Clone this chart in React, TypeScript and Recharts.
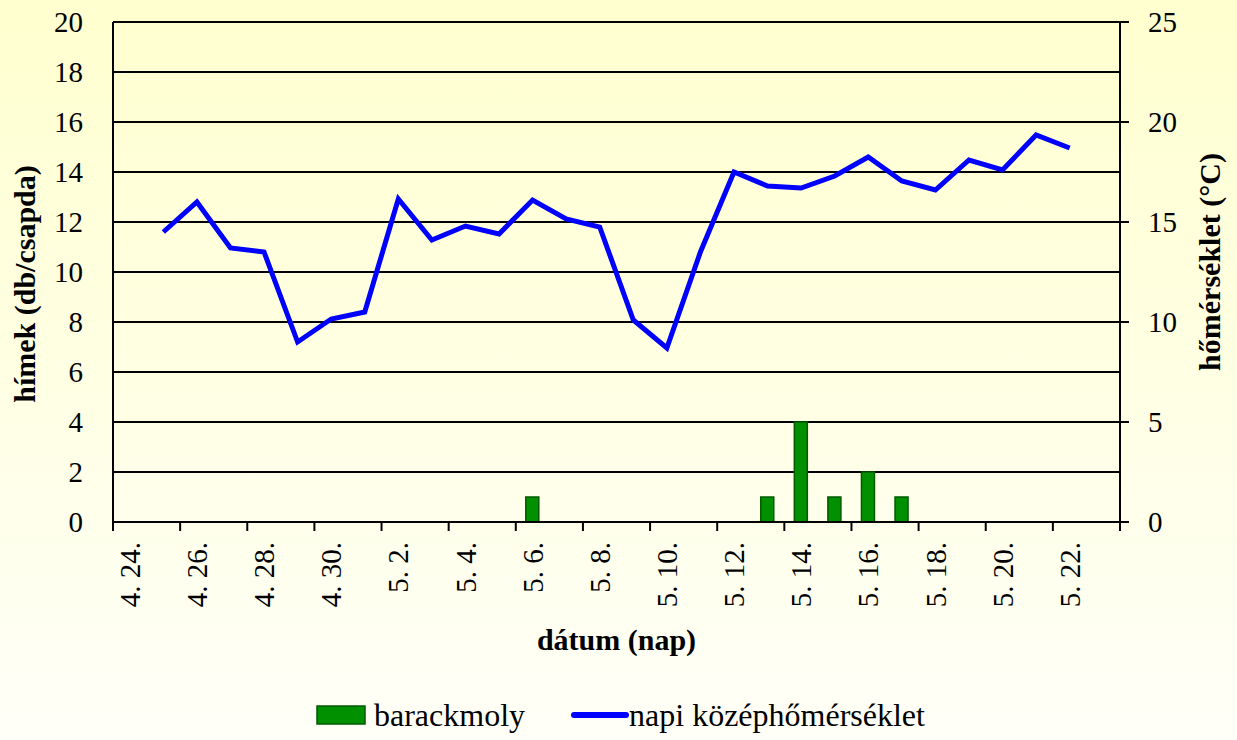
import React from "react";
import {
  Bar,
  CartesianGrid,
  ComposedChart,
  Legend,
  Line,
  XAxis,
  YAxis,
} from "recharts";

const dates = [
  "4. 24.", "4. 25.", "4. 26.", "4. 27.", "4. 28.", "4. 29.", "4. 30.",
  "5. 1.", "5. 2.", "5. 3.", "5. 4.", "5. 5.", "5. 6.", "5. 7.", "5. 8.",
  "5. 9.", "5. 10.", "5. 11.", "5. 12.", "5. 13.", "5. 14.", "5. 15.",
  "5. 16.", "5. 17.", "5. 18.", "5. 19.", "5. 20.", "5. 21.", "5. 22.",
  "5. 23.",
];

// barackmoly (hímek / csapda)
const moths = [
  0, 0, 0, 0, 0, 0, 0, 0, 0, 0, 0, 0, 1, 0, 0,
  0, 0, 0, 0, 1, 4, 1, 2, 1, 0, 0, 0, 0, 0, 0,
];

// napi középhőmérséklet (°C)
const temps: (number | null)[] = [
  null, 14.5, 16.0, 13.7, 13.5, 9.0, 10.15, 10.5, 16.15, 14.1, 14.8, 14.4,
  16.1, 15.15, 14.75, 10.1, 8.7, 13.5, 17.5, 16.8, 16.7, 17.3, 18.25, 17.05,
  16.6, 18.1, 17.6, 19.35, 18.7, null,
];

const leftTicks = [0, 2, 4, 6, 8, 10, 12, 14, 16, 18, 20];
const rightTicks = [0, 5, 10, 15, 20, 25];

const data = dates.map((d, i) => ({ date: d, moly: moths[i], temp: temps[i] }));

const W = 1237;
const H = 740;
const LEFT_W = 113;
const RIGHT_W = 117;
const FONT = "'Liberation Serif', 'Times New Roman', serif";

const XTick = (props: any) => {
  const { x, y, payload } = props;
  const band = (W - LEFT_W - RIGHT_W) / dates.length;
  const i = dates.indexOf(payload.value);
  const last = i + 2 >= dates.length;
  return (
    <g>
      <line x1={x - band / 2} y1={y} x2={x - band / 2} y2={y + 9} stroke="#000" strokeWidth={2} />
      {last && (
        <line x1={x + band * 1.5} y1={y} x2={x + band * 1.5} y2={y + 9} stroke="#000" strokeWidth={2} />
      )}
      <text
        x={x}
        y={y + 20}
        dy="0.35em"
        transform={`rotate(-90, ${x}, ${y + 20})`}
        textAnchor="end"
        fill="#000"
        style={{ fontFamily: FONT, fontSize: 29 }}
      >
        {payload.value}
      </text>
    </g>
  );
};

const YTick = (props: any) => {
  const { x, y, payload, textAnchor } = props;
  return (
    <text
      x={x}
      y={y}
      dy="0.35em"
      textAnchor={textAnchor}
      fill="#000"
      style={{ fontFamily: FONT, fontSize: 29 }}
    >
      {payload.value}
    </text>
  );
};

const LegendContent = () => (
  <div
    style={{
      display: "flex",
      alignItems: "center",
      height: 50,
      paddingLeft: 316,
      fontFamily: FONT,
      fontSize: 32,
      color: "#000",
    }}
  >
    <svg width={58} height={22}>
      <rect x={1} y={2} width={48} height={18} fill="#009000" stroke="#005a00" strokeWidth={1.5} />
    </svg>
    <span>barackmoly</span>
    <svg width={58} height={16} style={{ marginLeft: 46 }}>
      <line x1={3} y1={8} x2={55} y2={8} stroke="#0000ff" strokeWidth={6} strokeLinecap="round" />
    </svg>
    <span>napi középhőmérséklet</span>
  </div>
);

const titleStyle = { fontFamily: FONT, fontSize: 30, fontWeight: "bold" as const };

export default function App() {
  return (
    <div
      style={{
        position: "absolute",
        left: 0,
        top: 0,
        width: W,
        height: H,
        fontFamily: FONT,
        background: "linear-gradient(to bottom, #ffffcf 0%, #fffff8 100%)",
      }}
    >
      <ComposedChart
        width={W}
        height={H}
        data={data}
        margin={{ top: 22, right: 0, left: 0, bottom: 0 }}
        style={{ fontFamily: FONT }}
      >
        <CartesianGrid
          yAxisId="left"
          vertical={false}
          stroke="#000"
          strokeWidth={2}
        />
        <XAxis
          dataKey="date"
          interval={1}
          tickLine={false}
          tickSize={0}
          tickMargin={0}
          height={168}
          axisLine={{ stroke: "#000", strokeWidth: 2 }}
          tick={<XTick />}
          label={(p: any) => {
            const vb = p.viewBox || { x: LEFT_W, y: 522, width: 1007, height: 168 };
            return (
              <text
                x={vb.x + vb.width / 2}
                y={vb.y + 128}
                textAnchor="middle"
                fill="#000"
                style={titleStyle}
              >
                dátum (nap)
              </text>
            );
          }}
        />
        <YAxis
          yAxisId="left"
          width={LEFT_W}
          domain={[0, 20]}
          ticks={leftTicks}
          tickLine={false}
          tickSize={0}
          tickMargin={30}
          axisLine={{ stroke: "#000", strokeWidth: 2 }}
          tick={<YTick />}
          label={(p: any) => {
            const vb = p.viewBox || { x: 0, y: 22, width: LEFT_W, height: 500 };
            const cx = vb.x + 24;
            const cy = vb.y + vb.height / 2 + 12;
            return (
              <text
                x={cx}
                y={cy}
                transform={`rotate(-90, ${cx}, ${cy})`}
                textAnchor="middle"
                dominantBaseline="central"
                fill="#000"
                style={titleStyle}
              >
                hímek (db/csapda)
              </text>
            );
          }}
        />
        <YAxis
          yAxisId="right"
          orientation="right"
          width={RIGHT_W}
          domain={[0, 25]}
          ticks={rightTicks}
          tickSize={9}
          tickMargin={19}
          tickLine={{ stroke: "#000", strokeWidth: 2 }}
          axisLine={{ stroke: "#000", strokeWidth: 2 }}
          tick={<YTick />}
          label={(p: any) => {
            const vb = p.viewBox || { x: 1120, y: 22, width: RIGHT_W, height: 500 };
            const cx = vb.x + 89;
            const cy = vb.y + vb.height / 2 - 10;
            return (
              <text
                x={cx}
                y={cy}
                transform={`rotate(-90, ${cx}, ${cy})`}
                textAnchor="middle"
                dominantBaseline="central"
                fill="#000"
                style={titleStyle}
              >
                hőmérséklet (°C)
              </text>
            );
          }}
        />
        <Legend verticalAlign="bottom" height={50} wrapperStyle={{ left: 0, height: 50 }} content={<LegendContent />} />
        <Bar
          yAxisId="left"
          dataKey="moly"
          name="barackmoly"
          barSize={13}
          fill="#009000"
          stroke="#005a00"
          strokeWidth={1.5}
          isAnimationActive={false}
        />
        <Line
          yAxisId="right"
          dataKey="temp"
          name="napi középhőmérséklet"
          type="linear"
          stroke="#0000ff"
          strokeWidth={5}
          dot={false}
          activeDot={false}
          isAnimationActive={false}
        />
      </ComposedChart>
    </div>
  );
}
